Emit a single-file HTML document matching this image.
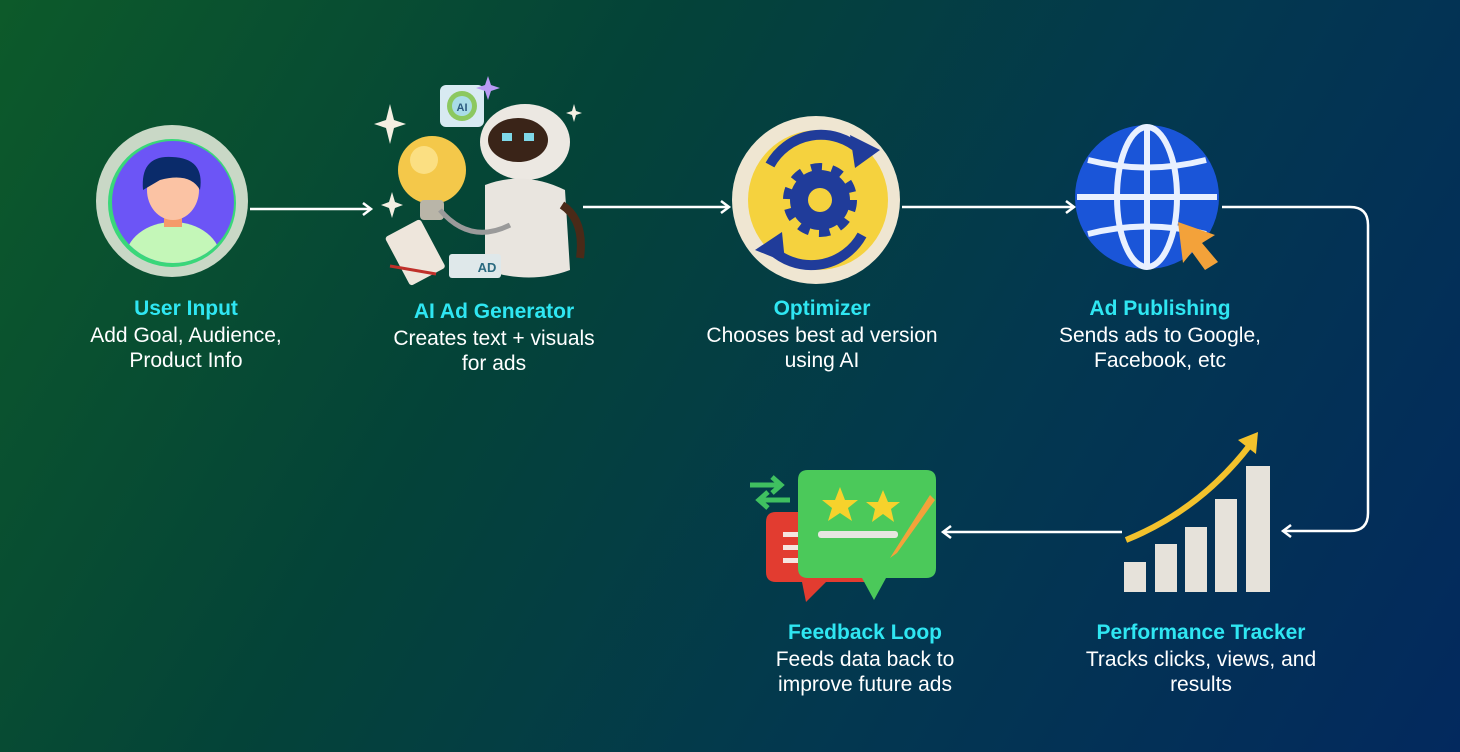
<!DOCTYPE html>
<html><head><meta charset="utf-8"><style>
html,body{margin:0;padding:0}
body{width:1460px;height:752px;overflow:hidden;background:linear-gradient(120deg,#0d5a2a 0%,#044338 35%,#03384f 65%,#03295e 100%);font-family:"Liberation Sans",sans-serif;position:relative}
.t{position:absolute;text-align:center;width:340px;color:#fff;font-size:21px;line-height:25px}
.t b{display:block;color:#2fe6f2;font-size:21px;margin-bottom:2px}
svg{position:absolute;left:0;top:0}
</style></head><body>
<svg width="1460" height="752" viewBox="0 0 1460 752">
<defs>
<marker id="a" markerWidth="14" markerHeight="14" refX="10" refY="7" orient="auto" markerUnits="userSpaceOnUse"><path d="M2 1 L10 7 L2 13" fill="none" stroke="#fff" stroke-width="2.5"/></marker>
</defs>
<g stroke="#fff" stroke-width="2.5" fill="none">
<line x1="250" y1="209" x2="371" y2="209" marker-end="url(#a)"/>
<line x1="583" y1="207" x2="729" y2="207" marker-end="url(#a)"/>
<line x1="902" y1="207" x2="1074" y2="207" marker-end="url(#a)"/>
<path d="M1222 207 H1350 Q1368 207 1368 225 V513 Q1368 531 1350 531 H1283" marker-end="url(#a)"/>
<line x1="1122" y1="532" x2="943" y2="532" marker-end="url(#a)"/>
</g>
<!-- user -->
<circle cx="172" cy="201" r="76" fill="#c9d8c6"/>
<circle cx="172" cy="203" r="64" fill="#3ad77a"/>
<circle cx="173" cy="202" r="61" fill="#6c55f6"/>
<clipPath id="uc"><circle cx="173" cy="202" r="61"/></clipPath>
<g clip-path="url(#uc)">
<ellipse cx="173" cy="260" rx="48" ry="38" fill="#c4f7b8"/>
<rect x="164" y="205" width="18" height="22" fill="#f59a6a"/>
<ellipse cx="173" cy="190" rx="26" ry="30" fill="#fbc3a4"/>
<path d="M143 190 Q140 155 172 157 Q205 158 200 190 Q190 172 160 180 Z" fill="#0a2b6a"/>
</g>
<!-- AI gen -->
<circle cx="432" cy="170" r="34" fill="#f4c84a"/>
<circle cx="424" cy="160" r="14" fill="#fde89a" opacity=".7"/>
<rect x="420" y="200" width="24" height="20" rx="4" fill="#b9b5a8"/>
<rect x="440" y="85" width="44" height="42" rx="6" fill="#d8eaf2"/>
<circle cx="462" cy="106" r="15" fill="#8cc860"/><circle cx="462" cy="106" r="10" fill="#a9dce8"/>
<text x="462" y="111" font-size="11" font-weight="bold" text-anchor="middle" fill="#2b5a80" font-family="Liberation Sans">AI</text>
<ellipse cx="525" cy="142" rx="45" ry="38" fill="#ece8e2"/>
<ellipse cx="518" cy="140" rx="30" ry="22" fill="#3a2418"/>
<rect x="502" y="133" width="10" height="8" fill="#7fd8e8"/><rect x="524" y="133" width="10" height="8" fill="#7fd8e8"/>
<path d="M485 185 Q525 170 565 190 L570 270 Q530 285 485 270 Z" fill="#e9e5df"/>
<path d="M562 205 Q585 220 580 258" stroke="#4a2a18" stroke-width="8" fill="none"/>
<path d="M440 210 Q470 245 510 225" stroke="#9a9a9a" stroke-width="5" fill="none"/>
<rect x="395" y="225" width="40" height="55" rx="3" fill="#eee6dc" transform="rotate(-28 415 252)"/>
<rect x="449" y="254" width="52" height="24" rx="3" fill="#dfe8ea"/>
<text x="487" y="272" font-size="13" font-weight="bold" text-anchor="middle" fill="#2a6a80" font-family="Liberation Sans">AD</text>
<path d="M390 266 L436 274" stroke="#c0302a" stroke-width="3"/>
<path d="M390 104 l4 16 l12 4 l-12 4 l-4 16 l-4 -16 l-12 -4 l12 -4z" fill="#f4efe2"/>
<path d="M392 192 l3 10 l8 3 l-8 3 l-3 10 l-3 -10 l-8 -3 l8 -3z" fill="#f4efe2"/>
<path d="M488 76 l3 9 l9 3 l-9 3 l-3 9 l-3 -9 l-9 -3 l9 -3z" fill="#b99af5"/>
<path d="M574 104 l2 7 l6 2 l-6 2 l-2 7 l-2 -7 l-6 -2 l6 -2z" fill="#f4efe2"/>
<!-- optimizer -->
<circle cx="816" cy="200" r="84" fill="#efe6d2"/>
<circle cx="818" cy="200" r="70" fill="#f5d23e"/>
<path d="M770 165 A58 58 0 0 1 860 150" stroke="#203c9a" stroke-width="10" fill="none"/>
<path d="M862 235 A58 58 0 0 1 770 248" stroke="#203c9a" stroke-width="10" fill="none"/>
<path d="M850 135 L880 150 L855 168Z" fill="#203c9a"/><path d="M785 262 L755 250 L782 232Z" fill="#203c9a"/>
<circle cx="820" cy="200" r="30" fill="#203c9a" stroke="#203c9a" stroke-width="14" stroke-dasharray="10 9"/>
<circle cx="820" cy="200" r="26" fill="#203c9a"/>
<circle cx="820" cy="200" r="12" fill="#f5d23e"/>
<!-- globe -->
<circle cx="1147" cy="197" r="72" fill="#1a55d8"/>
<g stroke="#e8f0ff" stroke-width="6" fill="none">
<ellipse cx="1147" cy="197" rx="30" ry="70"/><line x1="1147" y1="127" x2="1147" y2="267"/>
<line x1="1077" y1="197" x2="1217" y2="197"/><path d="M1088 160 Q1147 175 1206 160"/><path d="M1088 234 Q1147 219 1206 234"/>
</g>
<path d="M1178 222 L1215 235 L1202 243 L1218 262 L1205 270 L1192 252 L1183 263Z" fill="#f3a23a"/>
<!-- chart -->
<rect x="1124" y="562" width="22" height="30" fill="#e6e2da"/>
<rect x="1155" y="544" width="22" height="48" fill="#e6e2da"/>
<rect x="1185" y="527" width="22" height="65" fill="#e6e2da"/>
<rect x="1215" y="499" width="22" height="93" fill="#e6e2da"/>
<rect x="1246" y="466" width="24" height="126" fill="#e6e2da"/>
<path d="M1126 540 Q1200 510 1250 445" stroke="#f3c22c" stroke-width="6" fill="none"/>
<path d="M1238 440 L1258 432 L1256 454Z" fill="#f3c22c"/>
<!-- feedback -->
<path d="M776 512 h90 q10 0 10 10 v50 q0 10 -10 10 h-40 l-20 20 l-4 -20 h-26 q-10 0 -10 -10 v-50 q0 -10 10 -10z" fill="#e23c30"/>
<rect x="783" y="532" width="30" height="5" fill="#f5e5e0"/><rect x="783" y="545" width="30" height="5" fill="#f5e5e0"/><rect x="783" y="558" width="30" height="5" fill="#f5e5e0"/>
<path d="M808 470 h118 q10 0 10 10 v88 q0 10 -10 10 h-40 l-12 22 l-12 -22 h-54 q-10 0 -10 -10 v-88 q0 -10 10 -10z" fill="#4bc95a"/>
<polygon points="840,487 845,500 858,500 848,508 852,521 840,513 828,521 832,508 822,500 835,500" fill="#f6d22c"/>
<polygon points="883,490 888,502 900,502 891,509 894,522 883,514 872,522 875,509 866,502 878,502" fill="#f6d22c"/>
<rect x="818" y="531" width="80" height="7" rx="3" fill="#e6e6e0"/>
<path d="M930 495 L895 550 L890 558 L897 553 L935 500Z" fill="#f3a23a"/>
<path d="M750 485 h30 M772 477 l9 8 l-9 8 M790 500 h-30 M768 492 l-9 8 l9 8" stroke="#3fc060" stroke-width="5" fill="none"/>
</svg>
<div class="t" style="left:16px;top:296px"><b>User Input</b>Add Goal, Audience,<br>Product Info</div>
<div class="t" style="left:324px;top:299px"><b>AI Ad Generator</b>Creates text + visuals<br>for ads</div>
<div class="t" style="left:652px;top:296px"><b>Optimizer</b>Chooses best ad version<br>using AI</div>
<div class="t" style="left:990px;top:296px"><b>Ad Publishing</b>Sends ads to Google,<br>Facebook, etc</div>
<div class="t" style="left:695px;top:620px"><b>Feedback Loop</b>Feeds data back to<br>improve future ads</div>
<div class="t" style="left:1031px;top:620px"><b>Performance Tracker</b>Tracks clicks, views, and<br>results</div>
</body></html>
